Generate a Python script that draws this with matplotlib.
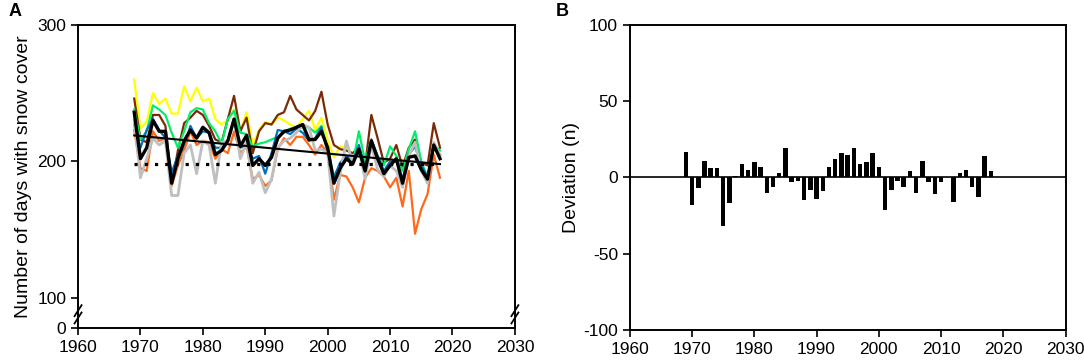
import matplotlib
matplotlib.use("Agg")
import matplotlib.pyplot as plt

plt.rcParams["font.family"] = ["Liberation Sans", "DejaVu Sans"]
plt.rcParams["font.size"] = 12
plt.rcParams["axes.unicode_minus"] = False

YEARS = list(range(1969, 2019))

# panel A: days with snow cover per station
YELLOW = [260, 224, 229, 250, 242, 246, 235, 235, 255, 244, 254, 244, 246, 231, 227,
          230, 238, 222, 236, 212, 223, 229, 227, 232, 230, 227, 225, 231, 237, 223,
          232, 216, 203, 211, 210]
BROWN = [246, 216, 214, 234, 234, 226, 183, 208, 228, 232, 237, 234, 226, 216, 214,
         231, 248, 222, 232, 206, 222, 228, 227, 234, 236, 248, 238, 234, 230, 237,
         251, 227, 212, 209, 208, 206, 210, 197, 234, 217, 199, 202, 212, 196, 210,
         216, 199, 197, 228, 210]
GREEN = [238, 216, 222, 241, 238, 234, 221, 210, 222, 236, 239, 238, 228, 222, 213,
         231, 237, 221, 220, 211, 213, 214, 216, 218, 221, 224, 224, 225, 225, 221,
         226, 209, 189, 198, 204, 198, 222, 200, 216, 204, 197, 211, 204, 193, 209,
         222, 200, 188, 212, 208]
BLUE = [227, 210, 223, 231, 223, 217, 192, 204, 210, 226, 217, 222, 221, 210, 210,
        215, 230, 210, 212, 202, 204, 191, 206, 223, 222, 220, 224, 221, 215, 217,
        225, 206, 188, 199, 204, 200, 212, 195, 216, 204, 193, 200, 200, 187, 205,
        211, 197, 189, 210, 205]
ORANGE = [223, 195, 193, 222, 215, 217, 182, 197, 208, 222, 212, 215, 214, 202, 209,
          206, 222, 206, 211, 187, 190, 182, 186, 209, 217, 212, 218, 218, 212, 205,
          212, 206, 172, 190, 189, 181, 170, 188, 195, 193, 189, 181, 188, 167, 193,
          147, 165, 176, 205, 188]
GRAY = [230, 188, 202, 217, 212, 215, 175, 175, 206, 212, 191, 215, 212, 184, 214,
        215, 231, 202, 214, 184, 192, 177, 187, 210, 215, 217, 221, 227, 225, 208,
        209, 206, 160, 191, 215, 199, 209, 187, 212, 194, 189, 197, 193, 181, 204,
        214, 193, 184, 214, 204]
BLACK = [236, 202, 210, 230, 222, 222, 184, 202, 215, 223, 217, 225, 221, 205, 208,
         215, 231, 211, 219, 197, 202, 197, 203, 217, 222, 223, 225, 227, 216, 216,
         222, 210, 184, 195, 202, 198, 209, 193, 215, 202, 191, 197, 202, 184, 203,
         204, 194, 187, 212, 202]
TREND = [219, 198]       # linear trend at first and last year
REFERENCE = 198          # dotted reference level

# panel B: deviation (n)
DEVIATION = [17, -18, -7, 11, 6, 6, -32, -17, 1, 9, 5, 10, 7, -10, -6,
             3, 19, -3, -2, -15, -8, -14, -9, 7, 12, 16, 15, 19, 9, 10,
             16, 7, -21, -8, -2, -6, 4, -10, 11, -3, -11, -3, 0, -16, 3,
             5, -6, -13, 14, 4]

fig = plt.figure(figsize=(10.84, 3.6), dpi=100)
ax_a = fig.add_axes([0.072, 0.089, 0.403, 0.842])
ax_b = fig.add_axes([0.581, 0.083, 0.402, 0.848])

series = [
    (YELLOW, "#FFFF00", 1.6),
    (BROWN, "#7B2A05", 1.6),
    (GREEN, "#00EE6A", 1.6),
    (BLUE, "#0070C0", 1.6),
    (ORANGE, "#FF6A1A", 1.6),
    (GRAY, "#BFBFBF", 2.0),
]
for values, color, lw in series:
    ax_a.plot(YEARS[:len(values)], values, color=color, lw=lw)
ax_a.plot(YEARS, BLACK, color="black", lw=2.4)
ax_a.plot([YEARS[0], YEARS[-1]], TREND, color="black", lw=1.5)
ax_a.plot([YEARS[0], YEARS[-1]], [REFERENCE, REFERENCE], color="black",
          lw=2.3, linestyle=(0, (1, 2.2)))

ax_a.set_xlim(1960, 2030)
ax_a.set_ylim(78, 300)
ax_a.set_xticks(range(1960, 2031, 10))
ax_a.set_yticks([78, 100, 200, 300])
ax_a.set_yticklabels(["0", "100", "200", "300"])
ax_a.set_ylabel("Number of days with snow cover", fontsize=14, labelpad=4)

# axis break marks
for x in (0, 1):
    for dy in (-0.012, 0.012):
        ax_a.plot([x - 0.008, x + 0.008], [0.045 + dy - 0.018, 0.045 + dy + 0.018],
                  transform=ax_a.transAxes, color="black", lw=1.3, clip_on=False)

ax_b.bar(YEARS, DEVIATION, width=0.72, color="black")
ax_b.axhline(0, color="black", lw=1.2)
ax_b.set_xlim(1960, 2030)
ax_b.set_ylim(-100, 100)
ax_b.set_xticks(range(1960, 2031, 10))
ax_b.set_yticks([-100, -50, 0, 50, 100])
ax_b.set_ylabel("Deviation (n)", fontsize=14, labelpad=2)

for ax in (ax_a, ax_b):
    for side in ax.spines.values():
        side.set_linewidth(1.4)
    ax.tick_params(direction="out", length=5, width=1.2, labelsize=12.5,
                   top=False, right=False)

fig.text(0.008, 0.955, "A", fontsize=13, fontweight="bold")
fig.text(0.513, 0.955, "B", fontsize=13, fontweight="bold")

fig.savefig("out.png", dpi=100)
